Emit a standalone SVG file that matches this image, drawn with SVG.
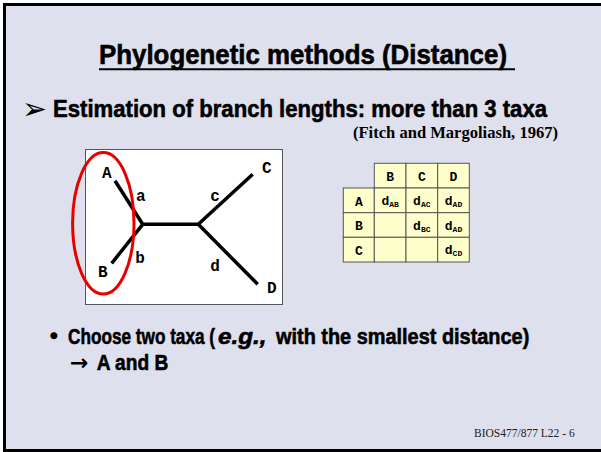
<svg xmlns="http://www.w3.org/2000/svg" width="601" height="452" viewBox="0 0 601 452">
<style>
.hd{font-family:"Liberation Sans Narrow","Liberation Sans",Arial,sans-serif;font-weight:bold;fill:#000;stroke:#000;stroke-width:0.6}
.tm{font-family:"Liberation Serif","Times New Roman",serif}
.mono{font-family:"Liberation Mono","Courier New",monospace;font-weight:bold;fill:#000}
.br{stroke:#000;stroke-width:3.5;stroke-linecap:butt;fill:none}
.cell{fill:#ffffcc;stroke:#555;stroke-width:1}
.tl{font-size:16px;text-anchor:middle}
.tb{font-size:13px;text-anchor:middle}
.sub{font-size:8px}
</style>
<rect x="4.5" y="4.5" width="600" height="446" fill="#dfe0ee" stroke="#000" stroke-width="3"/>
<g id="title">
<text class="hd" x="99" y="64" font-size="27" textLength="408" lengthAdjust="spacingAndGlyphs">Phylogenetic methods (Distance)</text>
<line x1="99" y1="69.3" x2="515" y2="69.3" stroke="#000" stroke-width="2"/>
</g>
<g id="subtitle">
<text x="22" y="119" font-family="DejaVu Sans,sans-serif" font-weight="bold" font-size="30" fill="#000">➢</text>
<text class="hd" x="53" y="117" font-size="24.5" textLength="494" lengthAdjust="spacingAndGlyphs">Estimation of branch lengths: more than 3 taxa</text>
<text class="tm" x="353" y="138" font-size="16.5" font-weight="bold" textLength="205" lengthAdjust="spacingAndGlyphs">(Fitch and Margoliash, 1967)</text>
</g>
<g id="tree">
<rect x="85.5" y="149.5" width="197" height="155" fill="#fff" stroke="#555" stroke-width="1"/>
<g id="connectors">
<line class="br" x1="115" y1="180.7" x2="142.7" y2="224.3"/>
<line class="br" x1="111.7" y1="263.3" x2="142.7" y2="224.3"/>
<line class="br" x1="141" y1="224.3" x2="198.3" y2="224.3"/>
<line class="br" x1="198.3" y1="224.3" x2="252.7" y2="174.3"/>
<line class="br" x1="198.3" y1="224.3" x2="257.7" y2="284.3"/>
</g>
<g id="labels">
<text class="mono tl" x="106.7" y="177.5">A</text>
<text class="mono tl" x="140.7" y="200.5">a</text>
<text class="mono tl" x="215" y="200.5">c</text>
<text class="mono tl" x="140" y="262.5">b</text>
<text class="mono tl" x="102.7" y="277">B</text>
<text class="mono tl" x="215" y="271">d</text>
<text class="mono tl" x="266.7" y="172.5">C</text>
<text class="mono tl" x="271.7" y="293">D</text>
</g>
<ellipse id="circle" cx="103.3" cy="223.3" rx="30.7" ry="70.7" fill="none" stroke="#e80000" stroke-width="3"/>
</g>
<g id="table">
<rect class="cell" x="374.3" y="163.3" width="31.7" height="24.7"/>
<rect class="cell" x="406" y="163.3" width="31.7" height="24.7"/>
<rect class="cell" x="437.7" y="163.3" width="31.6" height="24.7"/>
<rect class="cell" x="343.3" y="188" width="31" height="24.7"/>
<rect class="cell" x="374.3" y="188" width="31.7" height="24.7" fill="#ffffbb"/>
<rect class="cell" x="406" y="188" width="31.7" height="24.7" fill="#ffffbb"/>
<rect class="cell" x="437.7" y="188" width="31.6" height="24.7" fill="#ffffbb"/>
<rect class="cell" x="343.3" y="212.7" width="31" height="24.6"/>
<rect class="cell" x="374.3" y="212.7" width="31.7" height="24.6"/>
<rect class="cell" x="406" y="212.7" width="31.7" height="24.6"/>
<rect class="cell" x="437.7" y="212.7" width="31.6" height="24.6"/>
<rect class="cell" x="343.3" y="237.3" width="31" height="24.7"/>
<rect class="cell" x="374.3" y="237.3" width="31.7" height="24.7"/>
<rect class="cell" x="406" y="237.3" width="31.7" height="24.7"/>
<rect class="cell" x="437.7" y="237.3" width="31.6" height="24.7"/>
<text class="mono tb" x="390.2" y="181">B</text>
<text class="mono tb" x="421.8" y="181">C</text>
<text class="mono tb" x="453.5" y="181">D</text>
<text class="mono tb" x="358.8" y="205.5">A</text>
<text class="mono tb" x="358.8" y="230">B</text>
<text class="mono tb" x="358.8" y="254.5">C</text>
<text class="mono tb" x="390.2" y="205">d<tspan class="sub" dy="2">AB</tspan></text>
<text class="mono tb" x="421.8" y="205">d<tspan class="sub" dy="2">AC</tspan></text>
<text class="mono tb" x="453.5" y="205">d<tspan class="sub" dy="2">AD</tspan></text>
<text class="mono tb" x="421.8" y="229.5">d<tspan class="sub" dy="2">BC</tspan></text>
<text class="mono tb" x="453.5" y="229.5">d<tspan class="sub" dy="2">AD</tspan></text>
<text class="mono tb" x="453.5" y="254">d<tspan class="sub" dy="2">CD</tspan></text>
</g>
<g id="bullet">
<text class="hd" x="50" y="343" font-size="22">•</text>
<text class="hd" transform="translate(68,344) scale(0.764,1)" x="0" y="0" font-size="22.5">Choose two taxa (</text>
<text class="hd" transform="translate(218,344) scale(1.08,1)" x="0" y="0" font-size="22.5" font-style="italic">e.g.,</text>
<text class="hd" transform="translate(276,344) scale(0.885,1)" x="0" y="0" font-size="22.5">with the smallest distance)</text>
<text x="70" y="370" font-family="DejaVu Sans,sans-serif" font-weight="bold" font-size="22" fill="#000">→</text>
<text class="hd" x="96.7" y="370" font-size="22.5" textLength="71.6" lengthAdjust="spacingAndGlyphs">A and B</text>
</g>
<g id="footer">
<text class="tm" x="474" y="436.7" font-size="11.5" fill="#222" textLength="100.7" lengthAdjust="spacingAndGlyphs">BIOS477/877 L22 - 6</text>
</g>
</svg>
